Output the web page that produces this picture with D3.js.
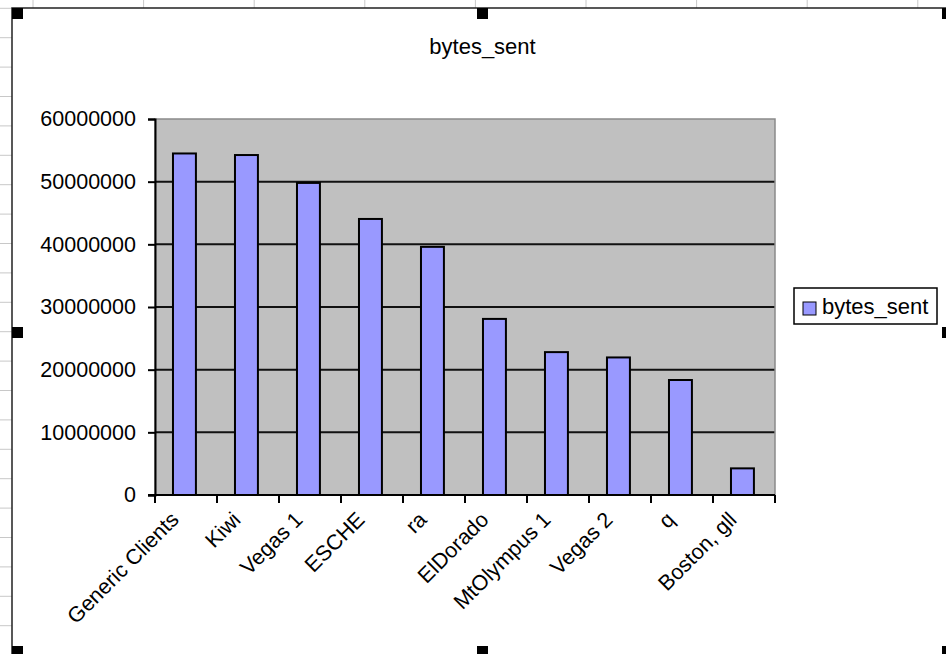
<!DOCTYPE html>
<html>
<head>
<meta charset="utf-8">
<script src="https://cdn.jsdelivr.net/npm/d3@7"></script>
<style>
  body { margin: 0; background: #fff; }
  svg { display: block; font-family: "Liberation Sans", Arial, sans-serif; }
</style>
</head>
<body>
<svg id="chart"></svg>
<script>
// données
const categories = ["Generic Clients", "Kiwi", "Vegas 1", "ESCHE", "ra", "ElDorado", "MtOlympus 1", "Vegas 2", "q", "Boston, gll"];
const bytesSent = [54500000, 54250000, 49800000, 44050000, 39600000, 28100000, 22800000, 21950000, 18350000, 4250000];
const yTicks = [0, 10000000, 20000000, 30000000, 40000000, 50000000, 60000000];
const seriesName = "bytes_sent";

const svg = d3.select("#chart").attr("width", 946).attr("height", 654);

// fond "feuille Excel" : quadrillage visible autour du graphique
const colLines = d3.range(33, 946, 110.6);
const rowLines = d3.range(8.3, 654, 29.4);
svg.selectAll(".col").data(colLines).join("line")
  .attr("x1", d => d).attr("x2", d => d).attr("y1", 0).attr("y2", 8)
  .attr("stroke", "#c8c8c8");
svg.selectAll(".row").data(rowLines).join("line")
  .attr("x1", 0).attr("x2", 12).attr("y1", d => d).attr("y2", d => d)
  .attr("stroke", "#c8c8c8");

// zone du graphique
svg.append("rect")
  .attr("x", 12).attr("y", 8).attr("width", 941).attr("height", 649)
  .attr("fill", "#fff").attr("stroke", "#222").attr("stroke-width", 1.5);

const x = d3.scaleBand().domain(categories).range([155, 775]);
const y = d3.scaleLinear().domain([0, 60000000]).range([495, 119]);

// zone de traçage grise
svg.append("rect")
  .attr("x", 155).attr("y", y(60000000))
  .attr("width", 620).attr("height", y(0) - y(60000000))
  .attr("fill", "#c0c0c0");

// lignes de quadrillage
svg.selectAll(".grid").data(yTicks.filter(v => v > 0 && v < 60000000)).join("line")
  .attr("x1", 155).attr("x2", 775)
  .attr("y1", d => y(d)).attr("y2", d => y(d))
  .attr("stroke", "#111").attr("stroke-width", 2);

// bordure de la zone de traçage
svg.append("rect")
  .attr("x", 155).attr("y", y(60000000))
  .attr("width", 620).attr("height", y(0) - y(60000000))
  .attr("fill", "none").attr("stroke", "#8a8a8a").attr("stroke-width", 1.5);

// barres
svg.selectAll(".bar").data(bytesSent).join("rect")
  .attr("x", (d, i) => x(categories[i]) + x.bandwidth() * 0.29)
  .attr("width", x.bandwidth() * 0.37)
  .attr("y", d => y(d))
  .attr("height", d => y(0) - y(d))
  .attr("fill", "#9999ff").attr("stroke", "#000").attr("stroke-width", 2);

// axe Y
const yAxis = svg.append("g")
  .attr("transform", "translate(155,0)")
  .call(d3.axisLeft(y).tickValues(yTicks).tickFormat(d3.format("d")).tickSize(7).tickPadding(12));
yAxis.select(".domain").attr("stroke", "#000").attr("stroke-width", 2);
yAxis.selectAll(".tick line").attr("stroke", "#000").attr("stroke-width", 2);
yAxis.selectAll(".tick text").attr("font-size", 21.5).attr("fill", "#000")
  .attr("font-family", "Liberation Sans, Arial, sans-serif");

// axe X : graduations entre les catégories
const bounds = categories.map(c => x(c)).concat([x.range()[1]]);
svg.append("line")
  .attr("x1", 148).attr("x2", 775).attr("y1", y(0)).attr("y2", y(0))
  .attr("stroke", "#000").attr("stroke-width", 2);
svg.selectAll(".xtick").data(bounds).join("line")
  .attr("x1", d => d).attr("x2", d => d).attr("y1", y(0)).attr("y2", y(0) + 8)
  .attr("stroke", "#000").attr("stroke-width", 2);

svg.selectAll(".xlabel").data(categories).join("text")
  .attr("transform", d => `translate(${x(d) + x.bandwidth() / 2 - 6},521) rotate(-45)`)
  .attr("text-anchor", "end")
  .attr("font-size", 21.5)
  .attr("fill", "#000")
  .text(d => d);

// titre
svg.append("text")
  .attr("x", 482.5).attr("y", 54)
  .attr("text-anchor", "middle")
  .attr("font-size", 22)
  .text(seriesName);

// légende
const legend = svg.append("g").attr("transform", "translate(794,288)");
legend.append("rect").attr("width", 143).attr("height", 36)
  .attr("fill", "#fff").attr("stroke", "#000").attr("stroke-width", 1.5);
legend.append("rect").attr("x", 9).attr("y", 14).attr("width", 13).attr("height", 13)
  .attr("fill", "#9999ff").attr("stroke", "#000").attr("stroke-width", 1);
legend.append("text").attr("x", 28).attr("y", 25.5).attr("font-size", 22).text(seriesName);

// poignées de sélection
const handles = [[12, 8], [477, 8], [942, 8], [12, 327], [942, 327], [12, 646], [477, 646], [942, 646]];
svg.selectAll(".handle").data(handles).join("rect")
  .attr("x", d => d[0]).attr("y", d => d[1])
  .attr("width", 11).attr("height", 11)
  .attr("fill", "#000");
</script>
</body>
</html>
